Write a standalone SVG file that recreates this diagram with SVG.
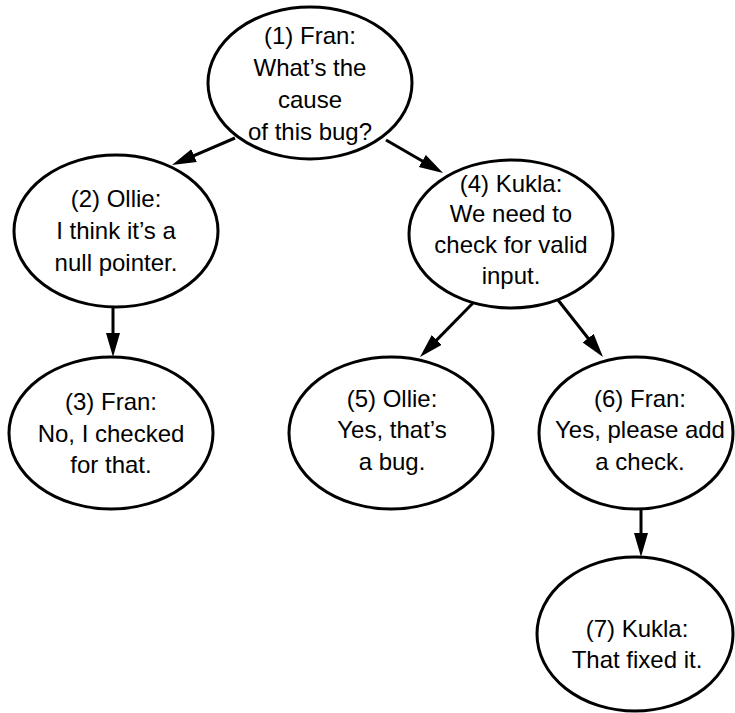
<svg xmlns="http://www.w3.org/2000/svg" width="735" height="713" viewBox="0 0 735 713">
<style>
.node ellipse{fill:#fff;stroke:#000;stroke-width:3}
.node text{font-family:"Liberation Sans",Arial,sans-serif;font-size:24px;fill:#000;text-anchor:middle}
.edges line{stroke:#000;stroke-width:3}
</style>
<defs>
<marker id="ah" markerUnits="userSpaceOnUse" markerWidth="26" markerHeight="16" refX="14" refY="7" orient="auto">
<path d="M0,0 L24,7 L0,14 z" fill="#000"/>
</marker>
</defs>
<rect width="735" height="713" fill="#fff"/>
<g id="edges" class="edges">
<line x1="235" y1="138" x2="181.2" y2="161.1" marker-end="url(#ah)"/>
<line x1="386" y1="140" x2="434.4" y2="168" marker-end="url(#ah)"/>
<line x1="113" y1="307" x2="113" y2="347" marker-end="url(#ah)"/>
<line x1="473" y1="303" x2="427" y2="349.9" marker-end="url(#ah)"/>
<line x1="558" y1="300" x2="596.8" y2="349.2" marker-end="url(#ah)"/>
<line x1="641" y1="509" x2="641" y2="547" marker-end="url(#ah)"/>
</g>
<g id="n1" class="node">
<ellipse cx="310" cy="83" rx="102" ry="76"/>
<text x="310" y="44">(1) Fran:</text>
<text x="310" y="76">What’s the</text>
<text x="310" y="108">cause</text>
<text x="310" y="140">of this bug?</text>
</g>
<g id="n2" class="node">
<ellipse cx="116" cy="231" rx="102" ry="76"/>
<text x="116" y="207">(2) Ollie:</text>
<text x="116" y="239">I think it’s a</text>
<text x="116" y="271">null pointer.</text>
</g>
<g id="n3" class="node">
<ellipse cx="111" cy="433" rx="102" ry="76"/>
<text x="111" y="410">(3) Fran:</text>
<text x="111" y="442">No, I checked</text>
<text x="111" y="473">for that.</text>
</g>
<g id="n4" class="node">
<ellipse cx="511" cy="234" rx="102" ry="74"/>
<text x="511" y="192">(4) Kukla:</text>
<text x="511" y="222">We need to</text>
<text x="511" y="253">check for valid</text>
<text x="511" y="284">input.</text>
</g>
<g id="n5" class="node">
<ellipse cx="391" cy="433" rx="102" ry="76"/>
<text x="392" y="407">(5) Ollie:</text>
<text x="392" y="438">Yes, that’s</text>
<text x="392" y="470">a bug.</text>
</g>
<g id="n6" class="node">
<ellipse cx="636" cy="433" rx="97" ry="76"/>
<text x="640" y="407">(6) Fran:</text>
<text x="640" y="438">Yes, please add</text>
<text x="640" y="470">a check.</text>
</g>
<g id="n7" class="node">
<ellipse cx="635" cy="634" rx="98" ry="77"/>
<text x="637" y="637">(7) Kukla:</text>
<text x="637" y="668">That fixed it.</text>
</g>
</svg>
